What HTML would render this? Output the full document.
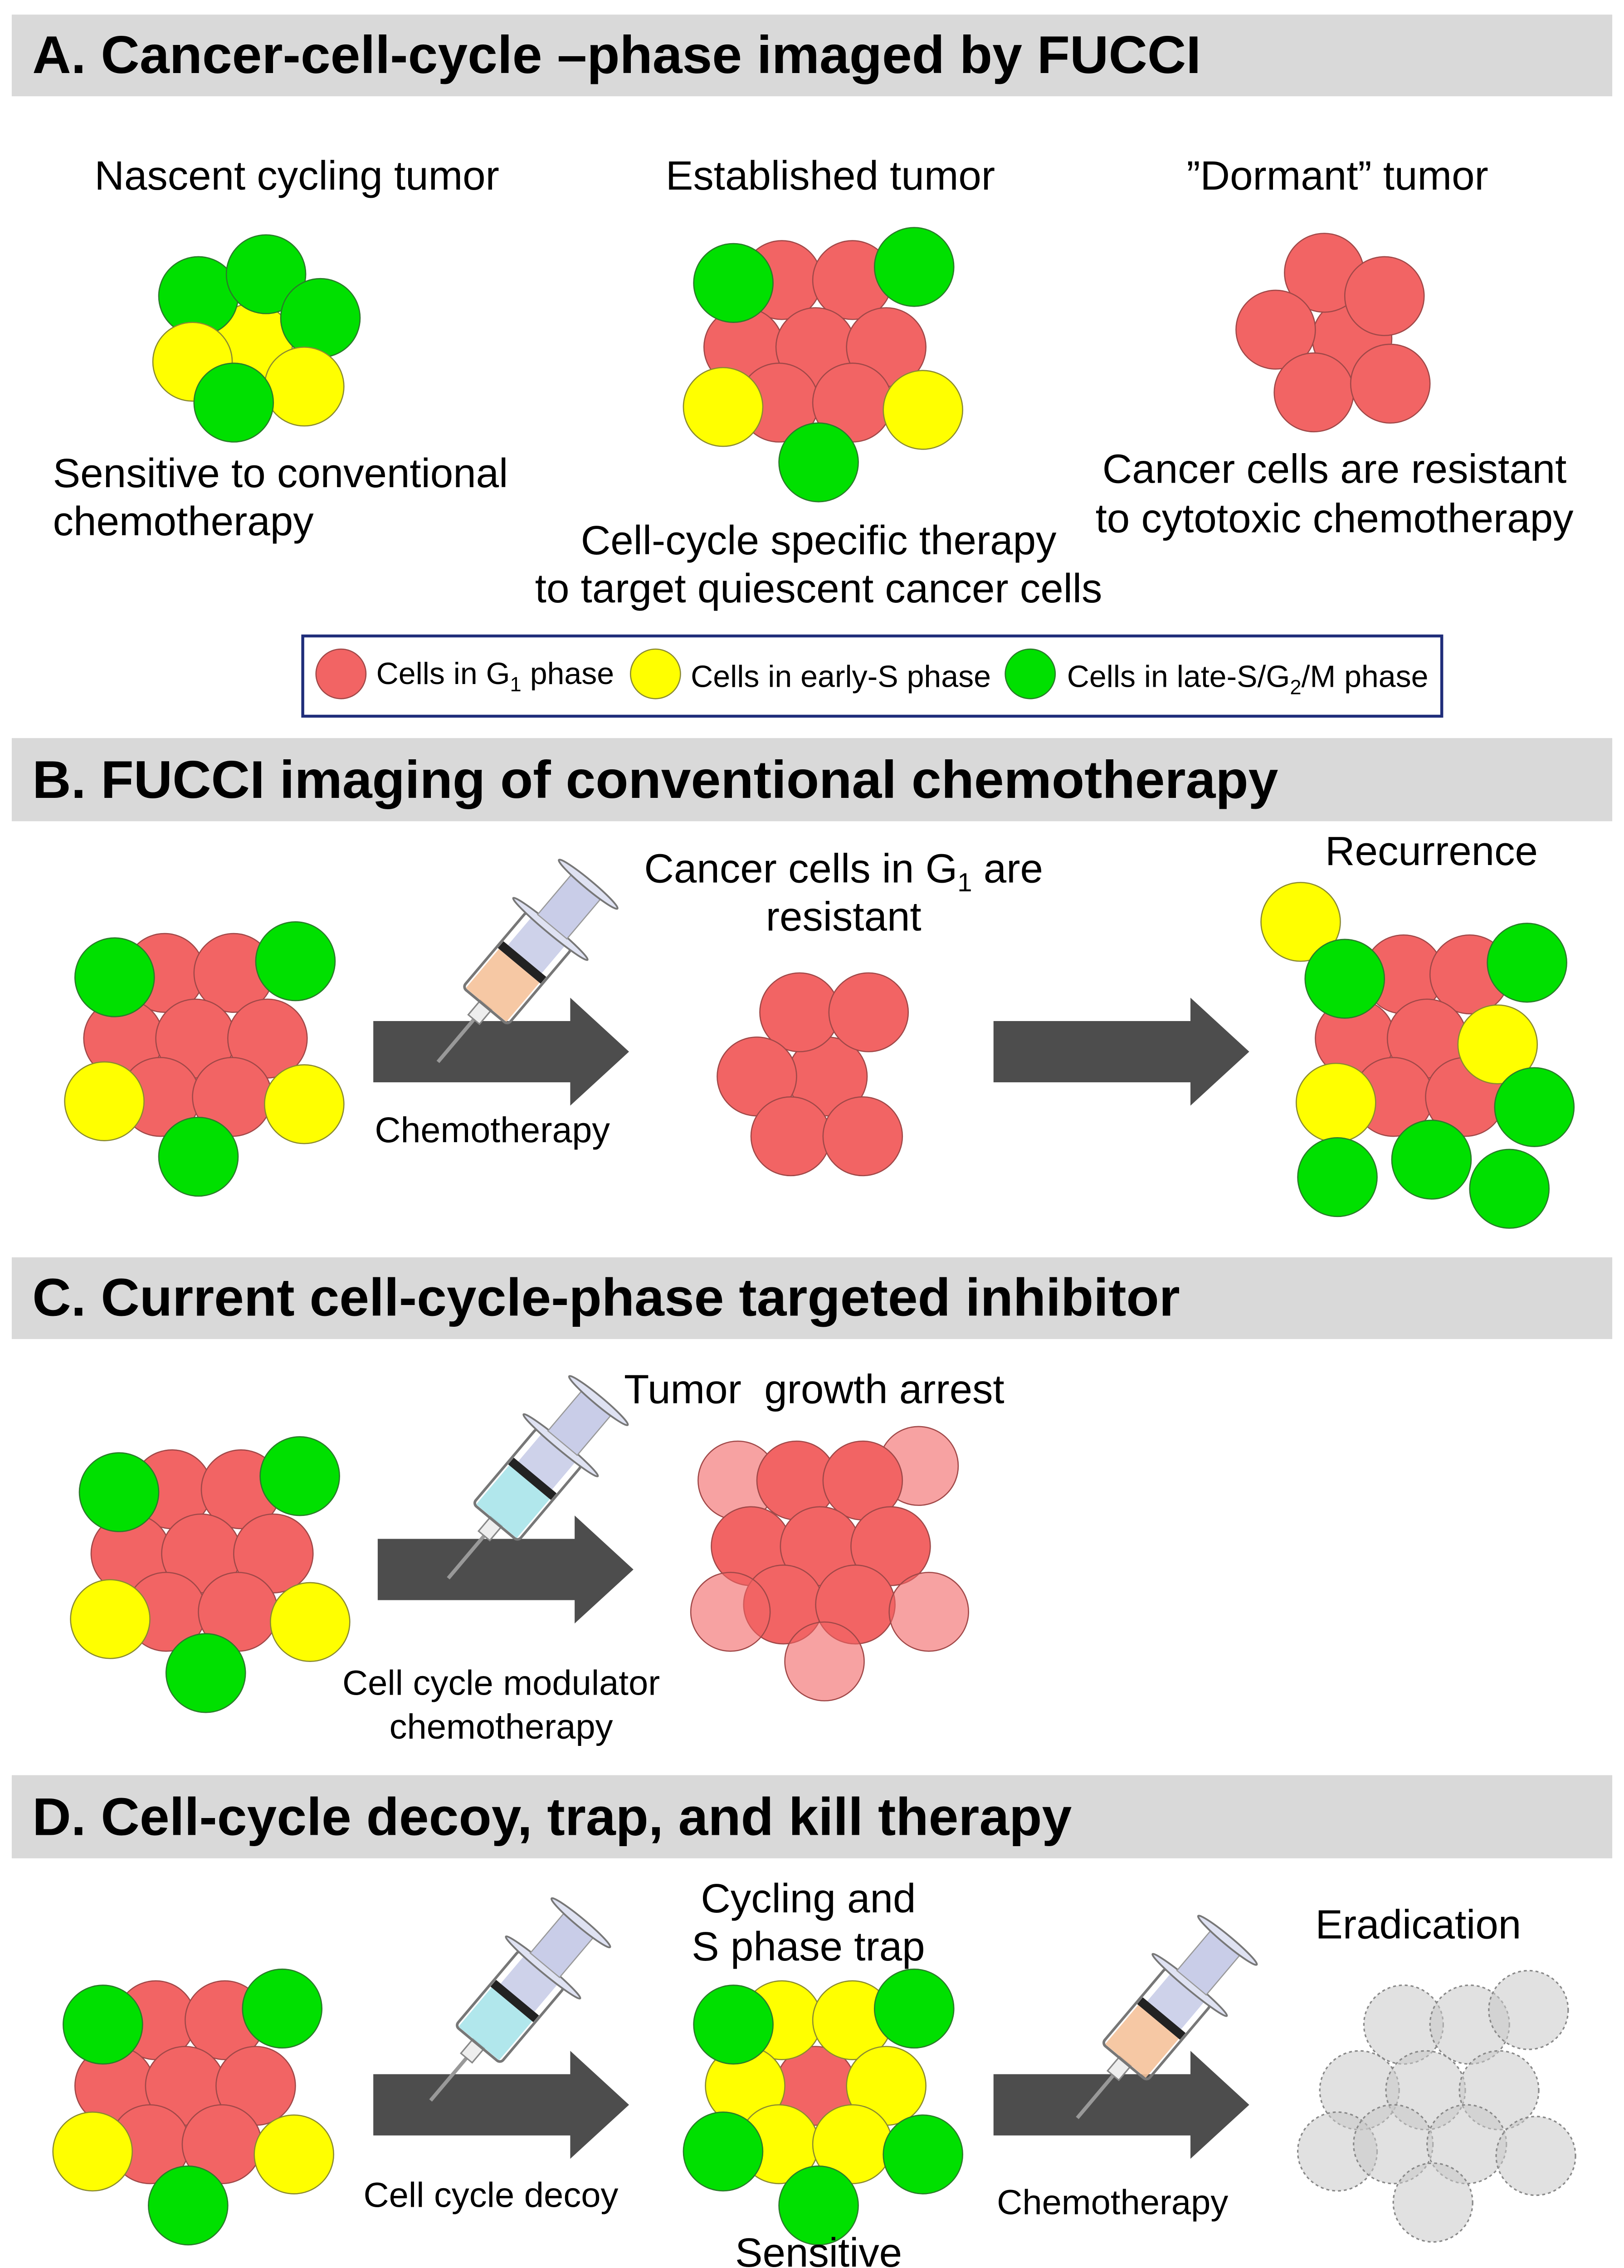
<!DOCTYPE html>
<html><head><meta charset="utf-8"><style>
html,body{margin:0;padding:0;background:#fff;overflow:hidden;}
svg{display:block;}
text{font-family:"Liberation Sans",sans-serif;fill:#000;}
.h{font-weight:bold;font-size:36.5px;}
.t{font-size:28px;}
.l{font-size:21px;}
.s{font-size:24px;}
.c{font-size:24.4px;}
.r{fill:#f26464;stroke:#a04848;stroke-width:0.8;}
.y{fill:#ffff00;stroke:#8a8a30;stroke-width:0.8;}
.g{fill:#00e000;stroke:#2a7a2a;stroke-width:0.8;}
.lr{fill:#f26464;fill-opacity:0.6;stroke:#a04848;stroke-width:0.8;}
.e{fill:#c8c8c8;fill-opacity:0.55;stroke:#888;stroke-width:1;stroke-dasharray:2 2;}
.ar{fill:#4d4d4d;}
</style></head><body>
<svg width="3581" height="5039" viewBox="0 0 1105 1567" preserveAspectRatio="none" xmlns="http://www.w3.org/2000/svg">
<defs>
<g id="syrA">
  <line x1="0" y1="0" x2="40" y2="0" stroke="#999" stroke-width="2.5"/>
  <rect x="38" y="-5" width="13" height="10" fill="#eee" stroke="#888"/>
</g>
<g id="syrB">
  <rect x="92" y="-15" width="26" height="30" fill="#c9cde8" opacity="0.9"/>
  <rect x="86" y="-19" width="6" height="38" fill="#222"/>
  <rect x="50" y="-20" width="68" height="40" rx="3" fill="none" stroke="#777" stroke-width="1.8"/>
  <ellipse cx="119" cy="0" rx="3" ry="33" fill="#dfe2f2" stroke="#777" stroke-width="1.2"/>
  <rect x="121" y="-13" width="36" height="26" fill="#c9cde8" stroke="#999" stroke-width="0.8"/>
  <ellipse cx="159" cy="0" rx="3" ry="26" fill="#dfe2f2" stroke="#777" stroke-width="1.2"/>
</g>
</defs>
<!-- headers -->
<rect x="8" y="10" width="1089" height="56" fill="#d9d9d9"/>
<text class="h" x="22" y="50">A.  Cancer-cell-cycle –phase imaged by FUCCI</text>
<rect x="8" y="506" width="1089" height="57" fill="#d9d9d9"/>
<text class="h" x="22" y="547">B. FUCCI imaging of conventional chemotherapy</text>
<rect x="8" y="862" width="1089" height="56" fill="#d9d9d9"/>
<text class="h" x="22" y="902">C. Current cell-cycle-phase targeted inhibitor</text>
<rect x="8" y="1217" width="1089" height="57" fill="#d9d9d9"/>
<text class="h" x="22" y="1258">D. Cell-cycle decoy, trap, and kill therapy</text>

<!-- A texts -->
<g class="t" text-anchor="middle">
<text x="202" y="130">Nascent cycling tumor</text>
<text x="565" y="130">Established tumor</text>
<text x="910" y="130">”Dormant” tumor</text>
<text x="557" y="380">Cell-cycle specific therapy</text>
<text x="557" y="413">to target quiescent cancer cells</text>
<text x="908" y="331">Cancer cells are resistant</text>
<text x="908" y="365">to cytotoxic chemotherapy</text>
</g>
<text class="t" x="36" y="334">Sensitive to conventional</text>
<text class="t" x="36" y="367">chemotherapy</text>

<!-- A nascent -->
<circle class="y" cx="172" cy="235" r="27"/>
<circle class="g" cx="135" cy="203" r="27"/>
<circle class="g" cx="181" cy="188" r="27"/>
<circle class="g" cx="218" cy="218" r="27"/>
<circle class="y" cx="131" cy="248" r="27"/>
<circle class="y" cx="207" cy="265" r="27"/>
<circle class="g" cx="159" cy="276" r="27"/>
<!-- A established -->
<circle class="r" cx="532" cy="192" r="27"/><circle class="r" cx="580" cy="192" r="27"/>
<circle class="r" cx="506" cy="238" r="27"/><circle class="r" cx="555" cy="238" r="27"/><circle class="r" cx="603" cy="238" r="27"/>
<circle class="r" cx="530" cy="276" r="27"/><circle class="r" cx="580" cy="276" r="27"/>
<circle class="g" cx="499" cy="194" r="27"/><circle class="g" cx="622" cy="183" r="27"/><circle class="g" cx="557" cy="317" r="27"/>
<circle class="y" cx="492" cy="279" r="27"/><circle class="y" cx="628" cy="281" r="27"/>
<!-- A dormant -->
<circle class="r" cx="920" cy="232" r="27"/>
<circle class="r" cx="901" cy="187" r="27"/><circle class="r" cx="942" cy="203" r="27"/>
<circle class="r" cx="868" cy="226" r="27"/><circle class="r" cx="894" cy="269" r="27"/><circle class="r" cx="946" cy="263" r="27"/>

<!-- legend -->
<rect x="206" y="436" width="775" height="55" fill="#fff" stroke="#1f2d7a" stroke-width="2"/>
<circle class="r" cx="232" cy="462" r="17"/><circle class="y" cx="446" cy="462" r="17"/><circle class="g" cx="701" cy="462" r="17"/>
<text class="l" x="256" y="469">Cells in G<tspan font-size="14" dy="5">1</tspan><tspan dy="-5"> phase</tspan></text>
<text class="l" x="470" y="471">Cells in early-S phase</text>
<text class="l" x="726" y="471">Cells in late-S/G<tspan font-size="14" dy="5">2</tspan><tspan dy="-5">/M phase</tspan></text>

<!-- B -->
<circle class="r" cx="112" cy="667" r="27"/><circle class="r" cx="159" cy="667" r="27"/>
<circle class="r" cx="84" cy="712" r="27"/><circle class="r" cx="133" cy="712" r="27"/><circle class="r" cx="182" cy="712" r="27"/>
<circle class="r" cx="109" cy="752" r="27"/><circle class="r" cx="158" cy="752" r="27"/>
<circle class="g" cx="78" cy="670" r="27"/><circle class="g" cx="201" cy="659" r="27"/><circle class="g" cx="135" cy="793" r="27"/>
<circle class="y" cx="71" cy="755" r="27"/><circle class="y" cx="207" cy="757" r="27"/>
<rect class="ar" x="254" y="700" width="135" height="42"/><polygon class="ar" points="388,684 428,721 388,758"/>
<g transform="translate(298,728) rotate(-50)"><use href="#syrA"/><rect x="51" y="-18" width="35" height="36" fill="#f5c29a" opacity="0.9"/><use href="#syrB"/></g>
<text class="c" x="335" y="783" text-anchor="middle">Chemotherapy</text>
<text class="t" x="574" y="605" text-anchor="middle">Cancer cells in G<tspan font-size="18" dy="6">1</tspan><tspan dy="-6"> are</tspan></text>
<text class="t" x="574" y="638" text-anchor="middle">resistant</text>
<circle class="r" cx="563" cy="738" r="27"/>
<circle class="r" cx="544" cy="694" r="27"/><circle class="r" cx="591" cy="694" r="27"/>
<circle class="r" cx="515" cy="738" r="27"/>
<circle class="r" cx="538" cy="779" r="27"/><circle class="r" cx="587" cy="779" r="27"/>
<rect class="ar" x="676" y="700" width="135" height="42"/><polygon class="ar" points="810,684 850,721 810,758"/>
<text class="t" x="974" y="593" text-anchor="middle">Recurrence</text>
<circle class="y" cx="885" cy="632" r="27"/>
<circle class="r" cx="955" cy="668" r="27"/><circle class="r" cx="1000" cy="668" r="27"/>
<circle class="r" cx="922" cy="712" r="27"/><circle class="r" cx="971" cy="712" r="27"/>
<circle class="r" cx="948" cy="752" r="27"/><circle class="r" cx="997" cy="752" r="27"/>
<circle class="g" cx="915" cy="671" r="27"/><circle class="g" cx="1039" cy="660" r="27"/>
<circle class="y" cx="1019" cy="716" r="27"/><circle class="y" cx="909" cy="756" r="27"/>
<circle class="g" cx="1044" cy="759" r="27"/><circle class="g" cx="974" cy="795" r="27"/>
<circle class="g" cx="910" cy="807" r="27"/><circle class="g" cx="1027" cy="815" r="27"/>

<!-- C -->
<circle class="r" cx="117" cy="1021" r="27"/><circle class="r" cx="164" cy="1021" r="27"/>
<circle class="r" cx="89" cy="1065" r="27"/><circle class="r" cx="137" cy="1065" r="27"/><circle class="r" cx="186" cy="1065" r="27"/>
<circle class="r" cx="113" cy="1105" r="27"/><circle class="r" cx="162" cy="1105" r="27"/>
<circle class="g" cx="81" cy="1023" r="27"/><circle class="g" cx="204" cy="1012" r="27"/><circle class="g" cx="140" cy="1147" r="27"/>
<circle class="y" cx="75" cy="1110" r="27"/><circle class="y" cx="211" cy="1112" r="27"/>
<rect class="ar" x="257" y="1055" width="135" height="42"/><polygon class="ar" points="391,1039 431,1076 391,1113"/>
<g transform="translate(305,1082) rotate(-50)"><use href="#syrA"/><rect x="51" y="-18" width="35" height="36" fill="#a8e4ea" opacity="0.9"/><use href="#syrB"/></g>
<text class="s" x="341" y="1162" text-anchor="middle">Cell cycle modulator</text>
<text class="s" x="341" y="1192" text-anchor="middle">chemotherapy</text>
<text class="t" x="554" y="962" text-anchor="middle">Tumor&#160;&#160;growth arrest</text>
<circle class="lr" cx="502" cy="1015" r="27"/><circle class="lr" cx="625" cy="1005" r="27"/>
<circle class="r" cx="542" cy="1015" r="27"/><circle class="r" cx="587" cy="1015" r="27"/>
<circle class="r" cx="511" cy="1060" r="27"/><circle class="r" cx="558" cy="1060" r="27"/><circle class="r" cx="606" cy="1060" r="27"/>
<circle class="r" cx="533" cy="1100" r="27"/><circle class="r" cx="582" cy="1100" r="27"/>
<circle class="lr" cx="497" cy="1105" r="27"/><circle class="lr" cx="632" cy="1105" r="27"/><circle class="lr" cx="561" cy="1139" r="27"/>

<!-- D -->
<circle class="r" cx="106" cy="1385" r="27"/><circle class="r" cx="153" cy="1385" r="27"/>
<circle class="r" cx="78" cy="1430" r="27"/><circle class="r" cx="126" cy="1430" r="27"/><circle class="r" cx="174" cy="1430" r="27"/>
<circle class="r" cx="102" cy="1470" r="27"/><circle class="r" cx="151" cy="1470" r="27"/>
<circle class="g" cx="70" cy="1388" r="27"/><circle class="g" cx="192" cy="1377" r="27"/><circle class="g" cx="128" cy="1512" r="27"/>
<circle class="y" cx="63" cy="1475" r="27"/><circle class="y" cx="200" cy="1477" r="27"/>
<rect class="ar" x="254" y="1422" width="135" height="42"/><polygon class="ar" points="388,1406 428,1443 388,1480"/>
<g transform="translate(293,1440) rotate(-50)"><use href="#syrA"/><rect x="51" y="-18" width="35" height="36" fill="#a8e4ea" opacity="0.9"/><use href="#syrB"/></g>
<text class="s" x="334" y="1513" text-anchor="middle">Cell cycle decoy</text>
<text class="t" x="550" y="1311" text-anchor="middle">Cycling and</text>
<text class="t" x="550" y="1344" text-anchor="middle">S phase trap</text>
<circle class="r" cx="555" cy="1430" r="27"/>
<circle class="y" cx="532" cy="1385" r="27"/><circle class="y" cx="580" cy="1385" r="27"/>
<circle class="y" cx="507" cy="1430" r="27"/><circle class="y" cx="603" cy="1430" r="27"/>
<circle class="y" cx="530" cy="1470" r="27"/><circle class="y" cx="580" cy="1470" r="27"/>
<circle class="g" cx="499" cy="1388" r="27"/><circle class="g" cx="622" cy="1377" r="27"/>
<circle class="g" cx="492" cy="1475" r="27"/><circle class="g" cx="628" cy="1477" r="27"/><circle class="g" cx="557" cy="1512" r="27"/>
<text class="t" x="557" y="1554" text-anchor="middle">Sensitive</text>
<rect class="ar" x="676" y="1422" width="135" height="42"/><polygon class="ar" points="810,1406 850,1443 810,1480"/>
<g transform="translate(733,1452) rotate(-50)"><use href="#syrA"/><rect x="51" y="-18" width="35" height="36" fill="#f5c29a" opacity="0.9"/><use href="#syrB"/></g>
<text class="s" x="757" y="1518" text-anchor="middle">Chemotherapy</text>
<text class="t" x="965" y="1329" text-anchor="middle">Eradication</text>
<circle class="e" cx="955" cy="1388" r="27"/><circle class="e" cx="1000" cy="1388" r="27"/><circle class="e" cx="1040" cy="1378" r="27"/>
<circle class="e" cx="925" cy="1433" r="27"/><circle class="e" cx="970" cy="1433" r="27"/><circle class="e" cx="1020" cy="1433" r="27"/>
<circle class="e" cx="910" cy="1475" r="27"/><circle class="e" cx="948" cy="1470" r="27"/><circle class="e" cx="998" cy="1470" r="27"/>
<circle class="e" cx="1045" cy="1478" r="27"/><circle class="e" cx="975" cy="1510" r="27"/>
</svg>
</body></html>
